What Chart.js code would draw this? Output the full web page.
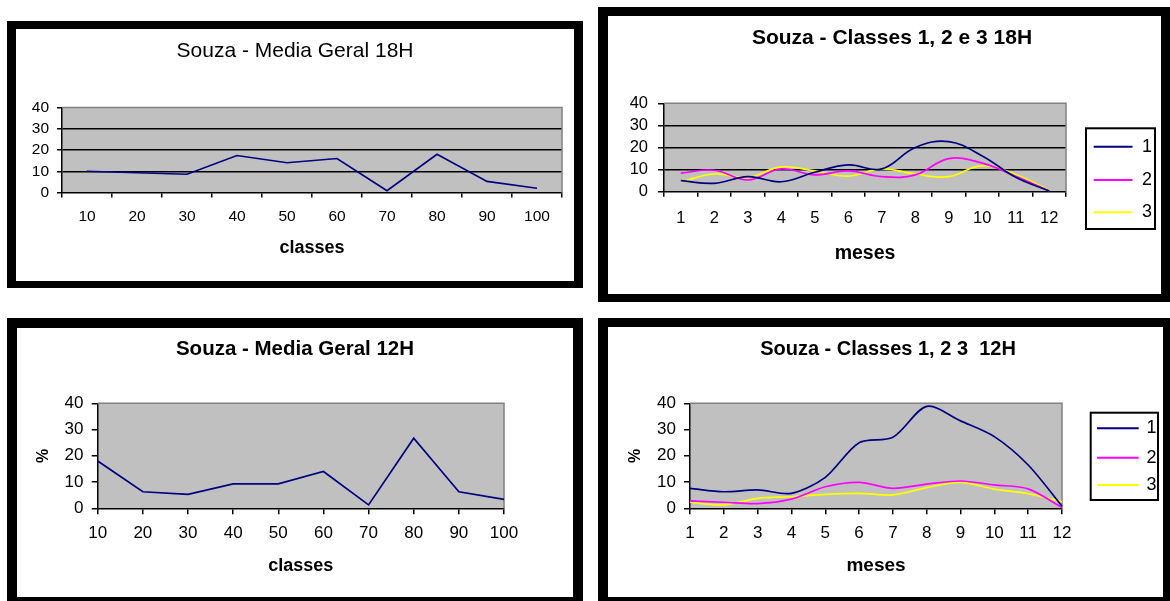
<!DOCTYPE html>
<html>
<head>
<meta charset="utf-8">
<title>Souza</title>
<script src="https://cdn.jsdelivr.net/npm/chart.js"></script>
<style>
  html, body { margin: 0; padding: 0; background: #fff; width: 1170px; height: 601px; overflow: hidden; }
  body { position: relative; }
  .frame { position: absolute; box-sizing: border-box; border: solid #000; background: #fff; }
  canvas { position: absolute; }
</style>
</head>
<body>
<div class="frame" style="left:7px;top:21px;width:576px;height:267px;border-width:8px 9px 7px 9px"></div>
<div class="frame" style="left:598px;top:7px;width:572px;height:295px;border-width:9px 9px 8px 10px"></div>
<div class="frame" style="left:7px;top:318px;width:576px;height:283px;border-width:10px 10px 4px 10px"></div>
<div class="frame" style="left:598px;top:318px;width:572px;height:283px;border-width:9px 7px 4px 10px"></div>

<canvas id="mediaGeral18" width="558" height="252" style="left:16px;top:29px"></canvas>
<canvas id="classes18" width="553" height="278" style="left:608px;top:16px"></canvas>
<canvas id="mediaGeral12" width="556" height="269" style="left:17px;top:328px"></canvas>
<canvas id="classes12" width="555" height="270" style="left:608px;top:327px"></canvas>

<script>
// Category labels
const classes = ['10', '20', '30', '40', '50', '60', '70', '80', '90', '100'];
const meses = ['1', '2', '3', '4', '5', '6', '7', '8', '9', '10', '11', '12'];

// Value axis ticks (%)
const percentTicks = [0, 10, 20, 30, 40];

// 18H: overall mean per class
const mediaGeral18H = [10, 9.3, 8.6, 17.4, 14, 16, 0.8, 18, 5.2, 2];

// 18H: classes 1, 2 and 3 per month
const classe1_18H = [5.0, 3.8, 6.8, 4.5, 8.8, 12.1, 10.3, 20.0, 22.7, 16.2, 6.5, 0.3];
const classe2_18H = [8.4, 9.7, 5.3, 10.3, 7.6, 9.4, 6.8, 7.6, 15.0, 12.9, 7.0, 0.3];
const classe3_18H = [4.5, 8.0, 6.4, 11.2, 9.4, 7.1, 10.3, 8.0, 6.8, 11.8, 7.8, 0.5];

// 12H: overall mean per class
const mediaGeral12H = [18, 6.3, 5.3, 9.3, 9.3, 14, 1.3, 26.7, 6.3, 3.4];

// 12H: classes 1, 2 and 3 per month
const classe1_12H = [7.6, 6.3, 7.0, 5.7, 11.8, 25.0, 27.1, 38.8, 33.3, 27.3, 16.5, 0.8];
const classe2_12H = [2.8, 2.3, 1.8, 3.5, 8.2, 9.9, 7.6, 9.2, 10.4, 8.9, 7.4, 0.3];
const classe3_12H = [2.3, 1.3, 3.8, 4.4, 5.3, 5.7, 5.1, 7.9, 9.9, 7.3, 5.6, 2.5];

const NAVY = '#000080';
const MAGENTA = '#ff00ff';
const YELLOW = '#ffff00';
const PLOT_FILL = '#c0c0c0';
const PLOT_EDGE = '#808080';

Chart.defaults.color = '#000';
Chart.defaults.font.family = "'Liberation Sans', Arial, sans-serif";
Chart.defaults.animation = false;

function font(size, bold) {
  return { size: size, weight: bold ? 'bold' : 'normal', lineHeight: 1.2 };
}

// Grey plot background with a soft grey top/right edge
const plotBackdrop = {
  id: 'plotBackdrop',
  beforeDraw(chart) {
    const { ctx, chartArea: a } = chart;
    ctx.save();
    ctx.fillStyle = PLOT_FILL;
    ctx.fillRect(a.left, a.top, a.right - a.left, a.bottom - a.top);
    ctx.restore();
  },
  beforeDatasetsDraw(chart) {
    const { ctx, chartArea: a } = chart;
    ctx.save();
    ctx.strokeStyle = PLOT_EDGE;
    ctx.lineWidth = 1.5;
    ctx.beginPath();
    ctx.moveTo(a.left, a.top);
    ctx.lineTo(a.right, a.top);
    ctx.lineTo(a.right, a.bottom);
    ctx.stroke();
    ctx.restore();
  }
};

// Boxed legend with line samples, placed to the right of the plot
const boxedLegend = {
  id: 'boxedLegend',
  afterDraw(chart, args, o) {
    if (!o || !o.display) return;
    const ctx = chart.ctx;
    ctx.save();
    ctx.fillStyle = '#fff';
    ctx.fillRect(o.x, o.y, o.w, o.h);
    ctx.strokeStyle = '#000';
    ctx.lineWidth = 2;
    ctx.strokeRect(o.x, o.y, o.w, o.h);
    ctx.font = `${o.size}px ${Chart.defaults.font.family}`;
    ctx.textBaseline = 'middle';
    ctx.textAlign = 'left';
    chart.data.datasets.forEach((ds, i) => {
      const y = o.rows[i];
      ctx.strokeStyle = ds.borderColor;
      ctx.lineWidth = 2;
      ctx.beginPath();
      ctx.moveTo(o.lineFrom, y);
      ctx.lineTo(o.lineTo, y);
      ctx.stroke();
      ctx.fillStyle = '#000';
      ctx.fillText(ds.label, o.textX, y);
    });
    ctx.restore();
  }
};

function makeChart(id, g) {
  const topValue = percentTicks[percentTicks.length - 1];
  const scales = {
    y: {
      type: 'linear',
      position: 'left',
      min: percentTicks[0],
      max: topValue,
      ticks: {
        stepSize: percentTicks[1] - percentTicks[0],
        autoSkip: false,
        font: font(g.tickSize),
        padding: g.yTickPad,
        color: '#000'
      },
      grid: {
        drawOnChartArea: g.gridLines,
        color: c => (c.tick && c.tick.value > percentTicks[0] && c.tick.value < topValue) ? '#000' : 'rgba(0,0,0,0)',
        tickColor: '#000',
        tickLength: g.yTickLen,
        lineWidth: 1.5
      },
      border: { color: '#000', width: 1.5 },
      title: g.yTitle
        ? { display: true, text: g.yTitle, font: font(16, true), color: '#000', padding: { top: g.yTitlePad, bottom: 0 } }
        : { display: false },
      afterFit: s => { s.width = g.yAxisWidth; }
    },
    x: {
      type: 'category',
      position: 'bottom',
      offset: g.between,
      ticks: { autoSkip: false, maxRotation: 0, minRotation: 0, font: font(g.tickSize), padding: g.xTickPad, color: '#000' },
      grid: { offset: g.between, drawOnChartArea: false, color: '#000', tickColor: '#000', tickLength: g.xTickLen, lineWidth: 1.5 },
      border: { color: '#000', width: 1.5 },
      title: { display: true, text: g.xTitle, font: font(g.xTitleSize, true), color: '#000', padding: { top: 0, bottom: g.xTitlePadBottom } },
      afterFit: s => { s.height = g.xAxisHeight; }
    }
  };
  if (g.rightSpace) {
    // empty strip on the right that leaves room for the legend
    scales.side = {
      type: 'linear',
      position: 'right',
      display: true,
      ticks: { display: false },
      grid: { display: false, drawTicks: false },
      border: { display: false },
      afterFit: s => { s.width = g.rightSpace; }
    };
  }
  return new Chart(document.getElementById(id), {
    type: 'line',
    data: {
      labels: g.labels,
      datasets: g.series.map(s => ({
        label: s.label,
        data: s.data,
        borderColor: s.color,
        backgroundColor: s.color,
        borderWidth: 1.7,
        pointRadius: 0,
        pointHoverRadius: 0,
        tension: g.tension,
        fill: false,
        xAxisID: 'x',
        yAxisID: 'y'
      }))
    },
    options: {
      responsive: false,
      devicePixelRatio: 1,
      animation: false,
      events: [],
      layout: { padding: { left: g.padL, right: g.padR, top: 0, bottom: 0 } },
      scales: scales,
      plugins: {
        legend: { display: false },
        tooltip: { enabled: false },
        title: {
          display: true,
          text: g.title,
          color: '#000',
          font: font(g.titleSize, g.titleBold),
          padding: { top: g.titlePadTop, bottom: g.titlePadBottom }
        },
        boxedLegend: g.legend || { display: false }
      }
    },
    plugins: [plotBackdrop, boxedLegend]
  });
}

makeChart('mediaGeral18', {
  labels: classes,
  series: [{ label: 'Media Geral 18H', data: mediaGeral18H, color: NAVY }],
  title: 'Souza - Media Geral 18H', titleSize: 21, titleBold: false,
  titlePadTop: 10.1, titlePadBottom: 43.2,
  padL: 12, padR: 12, yAxisWidth: 34, xAxisHeight: 88.5,
  between: true, gridLines: true, tension: 0,
  tickSize: 15.5, xTickPad: 9.7, xTickLen: 5, yTickLen: 5, yTickPad: 8,
  xTitle: 'classes', xTitleSize: 18, xTitlePadBottom: 22.2
});

makeChart('classes18', {
  labels: meses,
  series: [
    { label: '1', data: classe1_18H, color: NAVY },
    { label: '2', data: classe2_18H, color: MAGENTA },
    { label: '3', data: classe3_18H, color: YELLOW }
  ],
  title: 'Souza - Classes 1, 2 e 3 18H', titleSize: 21, titleBold: true,
  titlePadTop: 9.7, titlePadBottom: 52.4,
  padL: 15, padR: 0, yAxisWidth: 41, rightSpace: 95, xAxisHeight: 102.3,
  between: true, gridLines: true, tension: 0.4,
  tickSize: 16.5, xTickPad: 11.7, xTickLen: 5, yTickLen: 6, yTickPad: 10,
  xTitle: 'meses', xTitleSize: 19.5, xTitlePadBottom: 29,
  legend: { display: true, x: 478, y: 112.3, w: 69, h: 100.7, rows: [130.7, 164, 196.3], lineFrom: 485.7, lineTo: 524.5, textX: 534, size: 18 }
});

makeChart('mediaGeral12', {
  labels: classes,
  series: [{ label: 'Media Geral 12H', data: mediaGeral12H, color: NAVY }],
  title: 'Souza - Media Geral 12H', titleSize: 20.5, titleBold: true,
  titlePadTop: 8.7, titlePadBottom: 42,
  padL: 5, padR: 5, yAxisWidth: 75.7, rightSpace: 64, xAxisHeight: 88.7,
  between: false, gridLines: false, tension: 0,
  tickSize: 17, xTickPad: 8.8, xTickLen: 6, yTickLen: 6, yTickPad: 8.2,
  xTitle: 'classes', xTitleSize: 18, xTitlePadBottom: 20.2,
  yTitle: '%', yTitlePad: 12.4
});

makeChart('classes12', {
  labels: meses,
  series: [
    { label: '1', data: classe1_12H, color: NAVY },
    { label: '2', data: classe2_12H, color: MAGENTA },
    { label: '3', data: classe3_12H, color: YELLOW }
  ],
  title: 'Souza - Classes 1, 2 3  12H', titleSize: 20, titleBold: true,
  titlePadTop: 10, titlePadBottom: 42.3,
  padL: 8, padR: 3, yAxisWidth: 74, rightSpace: 98, xAxisHeight: 88.7,
  between: false, gridLines: false, tension: 0.3,
  tickSize: 17, xTickPad: 8.8, xTickLen: 6, yTickLen: 6, yTickPad: 8,
  xTitle: 'meses', xTitleSize: 19, xTitlePadBottom: 19.9,
  yTitle: '%', yTitlePad: 10.4,
  legend: { display: true, x: 482.7, y: 85.7, w: 67.3, h: 87.3, rows: [101.3, 130.7, 158], lineFrom: 489, lineTo: 530.7, textX: 538.5, size: 18 }
});
</script>
</body>
</html>
